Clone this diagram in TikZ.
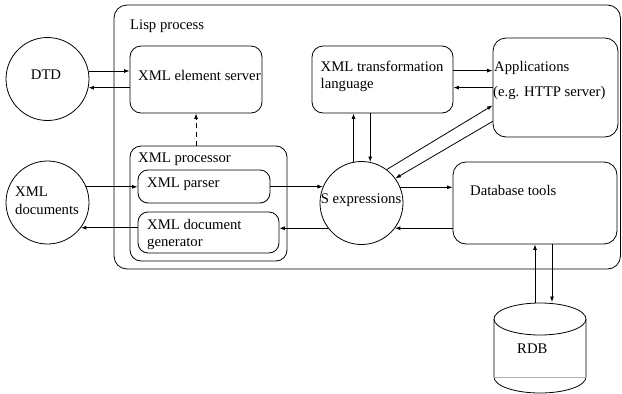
\documentclass[tikz,border=0pt]{standalone}
\usepackage{fontspec}
\setmainfont{Liberation Serif}
\newfontfamily\diagfont{Liberation Serif}
\usetikzlibrary{arrows.meta,calc}

\begin{document}
\begin{tikzpicture}[x=1pt,y=-1pt,
  every node/.style={font=\diagfont\fontsize{14.7}{17}\selectfont},
  line/.style={line width=0.8pt},
  arr/.style={line, -{Latex[length=5.5pt,width=4pt]}},
  box/.style={line, draw, rounded corners=11pt, inner sep=0pt},
  blob/.style={line, draw, circle, minimum size=83pt, inner sep=0pt},
  txt/.style={anchor=base west, inner sep=0pt},
]
\useasboundingbox (0,0) rectangle (622,394);

% enclosing process
\node[box, rounded corners=13pt, minimum width=506.5pt, minimum height=264pt] (lisp) at (367.25,137) {};
\node[txt] at (130,29) {Lisp process};

% external data
\node[blob] (dtd) at (47.5,79) {};
\node[anchor=base, inner sep=0pt] at (46,79.5) {DTD};
\node[blob] (docs) at (47.5,202.5) {};
\node[txt] at (15,196) {XML};
\node[txt] at (15,214) {documents};

% components inside the process
\node[box, minimum width=132pt, minimum height=67pt] (server) at (196,79.5) {};
\node[txt] at (138,80) {XML element server};

\node[box, minimum width=157pt, minimum height=115pt] (proc) at (208.5,203.5) {};
\node[txt] at (138,162.5) {XML processor};
\node[box, rounded corners=10pt, minimum width=132pt, minimum height=33pt] (parser) at (204,186.5) {};
\node[txt] at (147,187) {XML parser};
\node[box, rounded corners=10pt, minimum width=141pt, minimum height=41pt] (gen) at (208.5,232.5) {};
\node[txt] at (147,229) {XML document};
\node[txt] at (147,246) {generator};

\node[box, minimum width=141pt, minimum height=67pt] (trans) at (382.5,79.5) {};
\node[txt] at (320.5,71.5) {XML transformation};
\node[txt] at (320.5,88) {language};

\node[box, rounded corners=13pt, minimum width=125pt, minimum height=99pt] (apps) at (555.5,87.5) {};
\node[txt] at (494,71.5) {Applications};
\node[txt] at (493,96) {(e.g. HTTP server)};

\node[blob] (sexp) at (361.5,203) {};
\node[anchor=base, inner sep=0pt] at (361,203) {S expressions};

\node[box, rounded corners=13pt, minimum width=164pt, minimum height=82pt] (db) at (535,203) {};
\node[txt] at (470,195) {Database tools};

% relational database cylinder
\coordinate (rdbtop) at (540,303);
\draw[line] (494,319) arc[start angle=180, end angle=-180, x radius=46, y radius=16];
\draw[line] (494,319) -- (494,377) arc[start angle=180, end angle=0, x radius=46, y radius=16] -- (586,319);
\draw[line, gray!60] (494,377) -- (586,377);
\node[txt] at (517,353) {RDB};

% attachment points on the boxes
\coordinate (tr1) at ($(trans.north east)+(0,25)$);
\coordinate (tr2) at ($(trans.north east)+(0,42)$);
\coordinate (ap1) at ($(apps.south west)+(0,-32)$);
\coordinate (ap2) at ($(apps.south west)+(0,-16)$);
\coordinate (dbdown) at ($(db.south)+(17,0)$);
\coordinate (rdbin) at (552,302);

% connectors
\draw[arr] (dtd.11) -- (dtd.11 -| server.west);
\draw[arr] (server.west |- dtd.-12.5) -- (dtd.-12.5);
\draw[arr, dash pattern=on 5pt off 4pt] (proc.north -| server.south) -- (server.south);

\draw[arr] (docs.22.4) -- (docs.22.4 -| parser.west);
\draw[arr] (gen.west |- docs.-37.9) -- (docs.-37.9);
\draw[arr] (sexp.157.3 -| parser.east) -- (sexp.157.3);
\draw[arr] (sexp.217) -- (sexp.217 -| gen.east);

\draw[arr] (tr1) -- (tr1 -| apps.west);
\draw[arr] (tr2 -| apps.west) -- (tr2);
\draw[arr] (sexp.101.8) -- (sexp.101.8 |- trans.south);
\draw[arr] (sexp.78.2 |- trans.south) -- (sexp.78.2);

\draw[arr] (sexp.53.2) -- (ap1);
\draw[arr] (ap2) -- (sexp.36.4);

\draw[arr] (sexp.22.8) -- (sexp.22.8 -| db.west);
\draw[arr] (db.west |- sexp.-37) -- (sexp.-37);

\draw[arr] (rdbtop -| db.south) -- (db.south);
\draw[arr] (dbdown) -- (rdbin);
\end{tikzpicture}
\end{document}
